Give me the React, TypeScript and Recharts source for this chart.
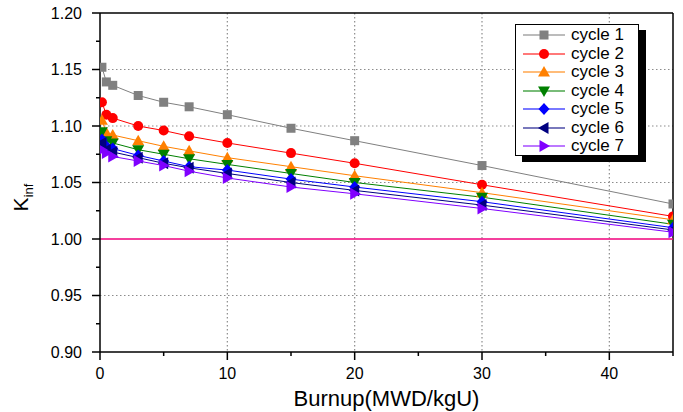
import { CartesianGrid, Legend, Line, LineChart, ReferenceLine, XAxis, YAxis } from 'recharts'

const burnup = [0.15, 0.5, 1, 3, 5, 7, 10, 15, 20, 30, 45]

const cycle1 = [1.152, 1.139, 1.136, 1.127, 1.121, 1.117, 1.110, 1.098, 1.087, 1.065, 1.031]
const cycle2 = [1.121, 1.110, 1.107, 1.100, 1.096, 1.091, 1.085, 1.076, 1.067, 1.048, 1.020]
const cycle3 = [1.105, 1.094, 1.092, 1.087, 1.082, 1.078, 1.072, 1.064, 1.056, 1.041, 1.017]
const cycle4 = [1.095, 1.087, 1.085, 1.079, 1.075, 1.071, 1.066, 1.058, 1.050, 1.037, 1.013]
const cycle5 = [1.088, 1.082, 1.080, 1.074, 1.069, 1.064, 1.061, 1.053, 1.046, 1.033, 1.010]
const cycle6 = [1.085, 1.079, 1.077, 1.072, 1.067, 1.063, 1.058, 1.050, 1.043, 1.030, 1.008]
const cycle7 = [1.079, 1.076, 1.073, 1.069, 1.065, 1.060, 1.054, 1.046, 1.040, 1.027, 1.006]

const seriesNames = ['cycle 1', 'cycle 2', 'cycle 3', 'cycle 4', 'cycle 5', 'cycle 6', 'cycle 7']
const seriesColors = ['#808080', '#ff0000', '#ff8000', '#008000', '#0000ff', '#000080', '#8000ff']
const seriesShapes = ['square', 'circle', 'triangleUp', 'triangleDown', 'diamond', 'triangleLeft', 'triangleRight']
const seriesValues = [cycle1, cycle2, cycle3, cycle4, cycle5, cycle6, cycle7]

const xTicks = [0, 5, 10, 15, 20, 25, 30, 35, 40, 45]
const yTicks = [0.9, 0.925, 0.95, 0.975, 1.0, 1.025, 1.05, 1.075, 1.1, 1.125, 1.15, 1.175, 1.2]
const xGrid = [10, 20, 30, 40]
const yGrid = [0.95, 1.05, 1.1, 1.15]
const criticalK = 1.0

const FONT = 'Arial, "Liberation Sans", sans-serif'

const chartData = burnup.map((b, i) => {
	const row: Record<string, number> = { burnup: b }
	seriesValues.forEach((vals, s) => {
		row[`c${s + 1}`] = vals[i]
	})
	return row
})

function MarkerShape({ shape, cx, cy, color }: { shape: string; cx: number; cy: number; color: string }) {
	switch (shape) {
		case 'square':
			return <rect x={cx - 4.5} y={cy - 4.5} width={9} height={9} fill={color} />
		case 'circle':
			return <circle cx={cx} cy={cy} r={5} fill={color} />
		case 'triangleUp':
			return <polygon points={`${cx},${cy - 6} ${cx + 6},${cy + 4.5} ${cx - 6},${cy + 4.5}`} fill={color} />
		case 'triangleDown':
			return <polygon points={`${cx},${cy + 6} ${cx + 6},${cy - 4.5} ${cx - 6},${cy - 4.5}`} fill={color} />
		case 'diamond':
			return <polygon points={`${cx},${cy - 6} ${cx + 5.5},${cy} ${cx},${cy + 6} ${cx - 5.5},${cy}`} fill={color} />
		case 'triangleLeft':
			return <polygon points={`${cx - 6},${cy} ${cx + 4.5},${cy - 6} ${cx + 4.5},${cy + 6}`} fill={color} />
		default:
			return <polygon points={`${cx + 6},${cy} ${cx - 4.5},${cy - 6} ${cx - 4.5},${cy + 6}`} fill={color} />
	}
}

function XTick(props: any) {
	const { x, y, payload } = props
	const major = payload.value % 10 === 0
	return (
		<g>
			<line x1={x} y1={y} x2={x} y2={y + (major ? 8 : 4)} stroke='#000' strokeWidth={1.5} />
			{major && (
				<text x={x} y={y + 21} dy='0.35em' textAnchor='middle' fontFamily={FONT} fontSize={16} fill='#000'>
					{payload.value}
				</text>
			)}
		</g>
	)
}

function YTick(props: any) {
	const { x, y, payload } = props
	const major = Math.round(payload.value * 1000) % 50 === 0
	return (
		<g>
			<line x1={x} y1={y} x2={x - (major ? 8 : 4)} y2={y} stroke='#000' strokeWidth={1.5} />
			{major && (
				<text x={x - 18} y={y} dy='0.35em' textAnchor='end' fontFamily={FONT} fontSize={16} fill='#000'>
					{payload.value.toFixed(2)}
				</text>
			)}
		</g>
	)
}

function KLabel({ viewBox }: any) {
	const { x, y, height } = viewBox
	return (
		<text
			transform={`translate(${x + 28},${y + height / 2 + 15}) rotate(-90)`}
			textAnchor='middle'
			fontFamily={FONT}
			fontSize={21}
			fill='#000'
		>
			K
			<tspan fontSize={13} dy={5}>
				inf
			</tspan>
		</text>
	)
}

function BurnupLabel({ viewBox }: any) {
	const { x, y, width } = viewBox
	return (
		<text x={x + width / 2} y={y + 46} dy='0.35em' textAnchor='middle' fontFamily={FONT} fontSize={22} fill='#000'>
			Burnup(MWD/kgU)
		</text>
	)
}

function CycleLegend({ payload }: any) {
	return (
		<div
			style={{
				width: 124,
				height: 132,
				boxSizing: 'border-box',
				border: '1px solid #000',
				background: '#fff',
				boxShadow: '7px 6px 0 #000',
				paddingTop: 1,
				fontFamily: FONT,
				fontSize: 17,
			}}
		>
			{(payload || []).map((entry: any) => {
				const i = seriesNames.indexOf(entry.value)
				return (
					<div key={entry.value} style={{ display: 'flex', alignItems: 'center', height: 18.5 }}>
						<svg width={55} height={18} style={{ flex: 'none' }}>
							<line x1={7} x2={49} y1={9} y2={9} stroke={seriesColors[i]} strokeWidth={1.5} strokeOpacity={0.7} />
							<MarkerShape shape={seriesShapes[i]} cx={28} cy={9} color={seriesColors[i]} />
						</svg>
						<span style={{ lineHeight: '18px', color: '#000' }}>{entry.value}</span>
					</div>
				)
			})}
		</div>
	)
}

export default function App() {
	return (
		<div style={{ position: 'absolute', left: 0, top: 0 }}>
			<LineChart width={683} height={412} data={chartData} margin={{ top: 13, right: 10, bottom: 0, left: 0 }}>
				<CartesianGrid
					horizontalValues={yGrid}
					verticalValues={xGrid}
					stroke='#8c8c8c'
					strokeDasharray='1.5 2.5'
					strokeWidth={1.2}
				/>
				<XAxis
					dataKey='burnup'
					type='number'
					domain={[0, 45]}
					ticks={xTicks}
					interval={0}
					height={60}
					tickSize={0}
					tickMargin={0}
					tickLine={false}
					tick={<XTick />}
					stroke='#000'
					strokeWidth={1.5}
					allowDataOverflow
					label={<BurnupLabel />}
				/>
				<YAxis
					type='number'
					domain={[0.9, 1.2]}
					ticks={yTicks}
					interval={0}
					width={100}
					tickSize={0}
					tickMargin={0}
					tickLine={false}
					tick={<YTick />}
					stroke='#000'
					strokeWidth={1.5}
					allowDataOverflow
					label={<KLabel />}
				/>
				<ReferenceLine y={1.2} stroke='#000' strokeWidth={1.5} />
				<ReferenceLine x={45} stroke='#000' strokeWidth={1.5} />
				<ReferenceLine y={criticalK} stroke='#f0007c' strokeWidth={1.5} />
				{seriesNames.map((name, s) => (
					<Line
						key={name}
						name={name}
						dataKey={`c${s + 1}`}
						type='linear'
						stroke={seriesColors[s]}
						strokeWidth={1}
						isAnimationActive={false}
						activeDot={false}
						dot={(p: any) => (
							<MarkerShape
								key={`${name}-${p.index}`}
								shape={seriesShapes[s]}
								cx={p.cx}
								cy={p.cy}
								color={seriesColors[s]}
							/>
						)}
					/>
				))}
				<Legend
					layout='vertical'
					align='center'
					verticalAlign='middle'
					wrapperStyle={{ left: 515, top: 24 }}
					content={<CycleLegend />}
				/>
			</LineChart>
		</div>
	)
}
